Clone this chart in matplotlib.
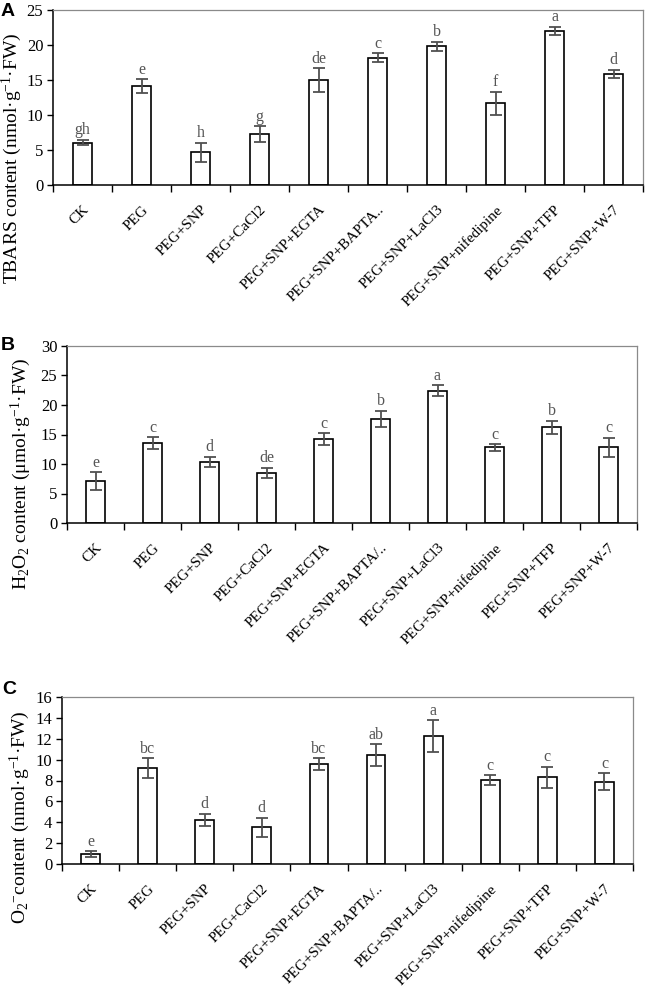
import matplotlib
matplotlib.use("Agg")
import matplotlib.pyplot as plt
import numpy as np

plt.rcParams['font.family'] = ['Liberation Serif', 'DejaVu Serif']
plt.rcParams['mathtext.fontset'] = 'custom'
plt.rcParams['mathtext.rm'] = 'Liberation Serif'
plt.rcParams['mathtext.it'] = 'Liberation Serif:italic'
plt.rcParams['mathtext.default'] = 'regular'

cats_A = ["CK", "PEG", "PEG+SNP", "PEG+CaCl2", "PEG+SNP+EGTA", "PEG+SNP+BAPTA..",
          "PEG+SNP+LaCl3", "PEG+SNP+nifedipine", "PEG+SNP+TFP", "PEG+SNP+W-7"]
cats_BC = ["CK", "PEG", "PEG+SNP", "PEG+CaCl2", "PEG+SNP+EGTA", "PEG+SNP+BAPTA/..",
           "PEG+SNP+LaCl3", "PEG+SNP+nifedipine", "PEG+SNP+TFP", "PEG+SNP+W-7"]

tbars = [6.05, 14.1, 4.7, 7.3, 14.95, 18.2, 19.8, 11.7, 22.05, 15.85]
tbars_err = [0.4, 1.0, 1.35, 1.1, 1.7, 0.6, 0.65, 1.65, 0.55, 0.6]
tbars_let = ["gh", "e", "h", "g", "de", "c", "b", "f", "a", "d"]

h2o2 = [7.1, 13.5, 10.4, 8.5, 14.2, 17.6, 22.4, 12.8, 16.2, 12.85]
h2o2_err = [1.55, 1.0, 0.85, 0.88, 1.0, 1.4, 0.93, 0.6, 1.13, 1.58]
h2o2_let = ["e", "c", "d", "de", "c", "b", "a", "c", "b", "c"]

o2 = [0.93, 9.2, 4.24, 3.54, 9.6, 10.45, 12.25, 8.05, 8.3, 7.9]
o2_err = [0.29, 0.97, 0.59, 0.91, 0.57, 1.04, 1.56, 0.45, 1.02, 0.81]
o2_let = ["e", "bc", "d", "d", "bc", "ab", "a", "c", "c", "c"]

W, H = 646, 990
fig = plt.figure(figsize=(W / 100, H / 100), dpi=100)


def make_axes(left, right, top, bottom):
    return fig.add_axes([left / W, 1 - bottom / H, (right - left) / W, (bottom - top) / H])


def panel(ax, cats, vals, errs, lets, ymax, ystep, ylabel, ylab_xy, plabel, pxy):
    x = np.arange(len(cats))
    ax.bar(x, vals, width=0.33, color='white', edgecolor='black', linewidth=1.2, zorder=2)
    ax.errorbar(x, vals, yerr=errs, fmt='none', ecolor='#505050', elinewidth=1.3,
                capsize=4, capthick=1.3, zorder=3)
    off = ymax * 0.008
    for xi, v, e, l in zip(x, vals, errs, lets):
        ax.text(xi, v + e + off, l, ha='center', va='bottom', fontsize=11.5, color='#555555')
    ax.set_xlim(-0.5, len(cats) - 0.5)
    ax.set_ylim(0, ymax)
    ax.set_yticks(np.arange(0, ymax + 0.001, ystep))
    ax.set_xticks(np.arange(-0.5, len(cats), 1.0))
    ax.set_xticklabels([])
    ax.set_xticks(x, minor=True)
    ax.set_xticklabels(cats, minor=True, rotation=45, ha='right', rotation_mode='anchor',
                       fontsize=11)
    ax.tick_params(axis='x', which='minor', length=0, pad=13)
    ax.tick_params(axis='x', which='major', length=5, width=1, direction='out')
    ax.tick_params(axis='y', length=4, width=1, direction='out', labelsize=12, pad=3)
    for s in ['top', 'right']:
        ax.spines[s].set_color('#8a8a8a')
        ax.spines[s].set_linewidth(0.9)
    for s in ['left', 'bottom']:
        ax.spines[s].set_linewidth(1.1)
    fig.text(ylab_xy[0] / W, 1 - ylab_xy[1] / H, ylabel, rotation=90, fontsize=14,
             ha='center', va='center')
    fig.text(pxy[0] / W, 1 - pxy[1] / H, plabel, fontsize=14, fontweight='bold',
             family='Liberation Sans', ha='left', va='center')


axA = make_axes(53, 643, 10, 185)
panel(axA, cats_A, tbars, tbars_err, tbars_let, 25, 5,
      r'TBARS content (nmol·g$^{-1}$·FW)', (12, 158), 'A', (1, 12))

axB = make_axes(67, 637, 346, 523)
panel(axB, cats_BC, h2o2, h2o2_err, h2o2_let, 30, 5,
      r'H$_2$O$_2$ content (μmol·g$^{-1}$·FW)', (21, 474), 'B', (1, 345))

axC = make_axes(62, 633, 697, 864)
panel(axC, cats_BC, o2, o2_err, o2_let, 16, 2,
      r'O$_2$$^{-}$content (nmol·g$^{-1}$·FW)', (20, 817), 'C', (2, 689))

fig.savefig('out.png', dpi=100)
